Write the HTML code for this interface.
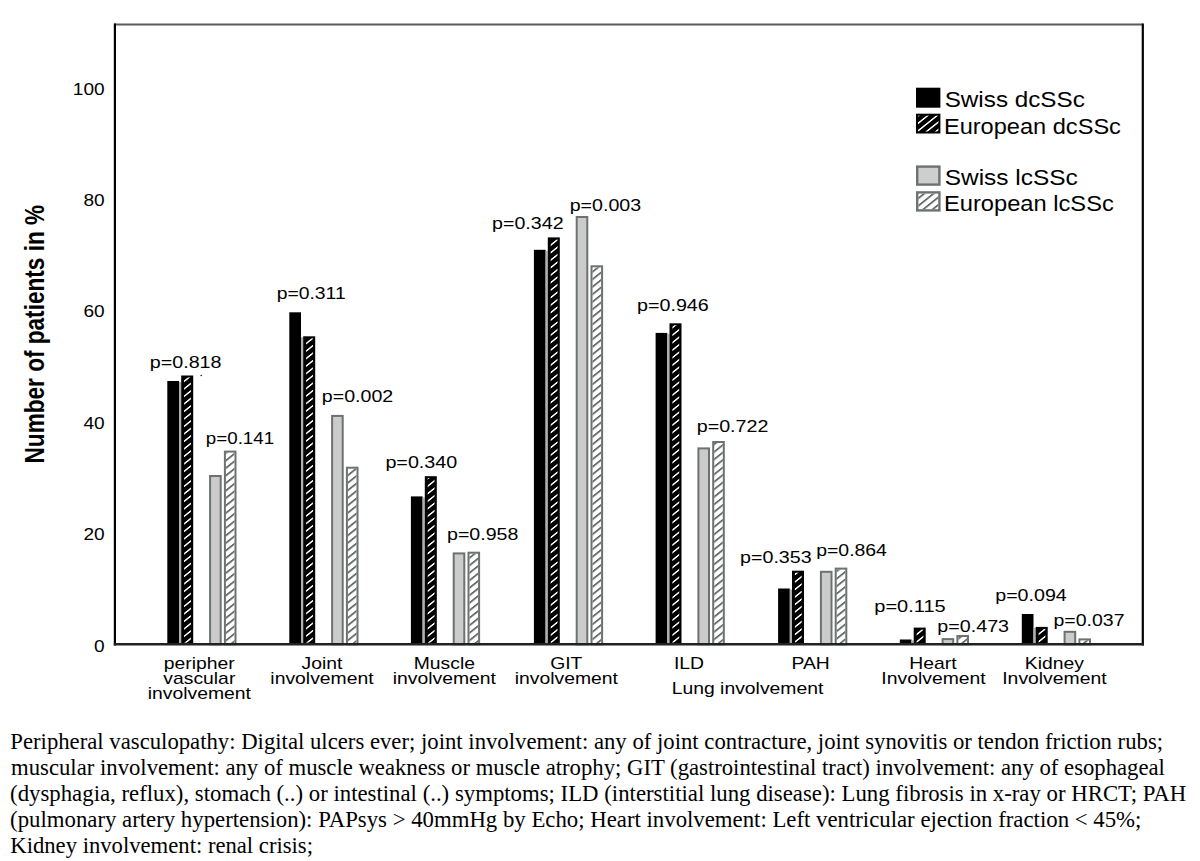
<!DOCTYPE html>
<html><head><meta charset="utf-8">
<style>
html,body{margin:0;padding:0;background:#fff;}
svg{display:block;}
text{font-family:"Liberation Sans",sans-serif;}
</style></head>
<body>
<svg width="1200" height="861" viewBox="0 0 1200 861">
<defs>
<pattern id="hw" patternUnits="userSpaceOnUse" width="20" height="7.5" patternTransform="translate(0,2.9) skewY(-38.7)">
<rect x="0" y="0" width="20" height="1.9" fill="#fff"/>
</pattern>
<pattern id="hg" patternUnits="userSpaceOnUse" width="20" height="7.5" patternTransform="translate(0,2.9) skewY(-38.7)">
<rect x="0" y="0" width="20" height="2.3" fill="#646a67"/>
</pattern>
</defs>
<rect width="1200" height="861" fill="#fff"/>
<rect x="167.30" y="381.00" width="11.7" height="263.30" fill="#000"/>
<rect x="179.00" y="382.00" width="2.20" height="262.30" fill="#b0b0b0"/>
<rect x="181.20" y="375.50" width="12.0" height="268.80" fill="#000"/>
<rect x="184.10" y="377.50" width="6.80" height="265.20" fill="url(#hw)"/>
<rect x="210.10" y="476.00" width="10.60" height="168.30" fill="#cbcbcb" stroke="#6c726f" stroke-width="2"/>
<rect x="224.90" y="451.60" width="10.60" height="192.70" fill="#fff" stroke="#6c726f" stroke-width="2"/>
<rect x="225.90" y="452.60" width="8.60" height="191.70" fill="url(#hg)"/>
<rect x="289.30" y="312.30" width="11.7" height="332.00" fill="#000"/>
<rect x="301.00" y="337.30" width="2.20" height="307.00" fill="#b0b0b0"/>
<rect x="303.20" y="336.30" width="12.0" height="308.00" fill="#000"/>
<rect x="306.10" y="338.30" width="6.80" height="304.40" fill="url(#hw)"/>
<rect x="332.10" y="415.90" width="10.60" height="228.40" fill="#cbcbcb" stroke="#6c726f" stroke-width="2"/>
<rect x="346.90" y="467.70" width="10.60" height="176.60" fill="#fff" stroke="#6c726f" stroke-width="2"/>
<rect x="347.90" y="468.70" width="8.60" height="175.60" fill="url(#hg)"/>
<rect x="410.90" y="496.40" width="11.7" height="147.90" fill="#000"/>
<rect x="422.60" y="497.40" width="2.20" height="146.90" fill="#b0b0b0"/>
<rect x="424.80" y="476.20" width="12.0" height="168.10" fill="#000"/>
<rect x="427.70" y="478.20" width="6.80" height="164.50" fill="url(#hw)"/>
<rect x="453.70" y="553.40" width="10.60" height="90.90" fill="#cbcbcb" stroke="#6c726f" stroke-width="2"/>
<rect x="468.50" y="552.70" width="10.60" height="91.60" fill="#fff" stroke="#6c726f" stroke-width="2"/>
<rect x="469.50" y="553.70" width="8.60" height="90.60" fill="url(#hg)"/>
<rect x="533.90" y="249.80" width="11.7" height="394.50" fill="#000"/>
<rect x="545.60" y="250.80" width="2.20" height="393.50" fill="#b0b0b0"/>
<rect x="547.80" y="237.40" width="12.0" height="406.90" fill="#000"/>
<rect x="550.70" y="239.40" width="6.80" height="403.30" fill="url(#hw)"/>
<rect x="576.70" y="217.00" width="10.60" height="427.30" fill="#cbcbcb" stroke="#6c726f" stroke-width="2"/>
<rect x="591.50" y="266.30" width="10.60" height="378.00" fill="#fff" stroke="#6c726f" stroke-width="2"/>
<rect x="592.50" y="267.30" width="8.60" height="377.00" fill="url(#hg)"/>
<rect x="655.60" y="332.90" width="11.7" height="311.40" fill="#000"/>
<rect x="667.30" y="333.90" width="2.20" height="310.40" fill="#b0b0b0"/>
<rect x="669.50" y="323.30" width="12.0" height="321.00" fill="#000"/>
<rect x="672.40" y="325.30" width="6.80" height="317.40" fill="url(#hw)"/>
<rect x="698.40" y="448.40" width="10.60" height="195.90" fill="#cbcbcb" stroke="#6c726f" stroke-width="2"/>
<rect x="713.20" y="442.00" width="10.60" height="202.30" fill="#fff" stroke="#6c726f" stroke-width="2"/>
<rect x="714.20" y="443.00" width="8.60" height="201.30" fill="url(#hg)"/>
<rect x="778.10" y="588.50" width="11.7" height="55.80" fill="#000"/>
<rect x="789.80" y="589.50" width="2.20" height="54.80" fill="#b0b0b0"/>
<rect x="792.00" y="570.70" width="12.0" height="73.60" fill="#000"/>
<rect x="794.90" y="572.70" width="6.80" height="70.00" fill="url(#hw)"/>
<rect x="820.90" y="571.80" width="10.60" height="72.50" fill="#cbcbcb" stroke="#6c726f" stroke-width="2"/>
<rect x="835.70" y="568.60" width="10.60" height="75.70" fill="#fff" stroke="#6c726f" stroke-width="2"/>
<rect x="836.70" y="569.60" width="8.60" height="74.70" fill="url(#hg)"/>
<rect x="899.80" y="639.50" width="11.7" height="4.80" fill="#000"/>
<rect x="911.50" y="640.50" width="2.20" height="3.80" fill="#b0b0b0"/>
<rect x="913.70" y="627.60" width="12.0" height="16.70" fill="#000"/>
<rect x="916.60" y="629.60" width="6.80" height="13.10" fill="url(#hw)"/>
<rect x="942.60" y="639.10" width="10.60" height="5.20" fill="#cbcbcb" stroke="#6c726f" stroke-width="2"/>
<rect x="957.40" y="636.00" width="10.60" height="8.30" fill="#fff" stroke="#6c726f" stroke-width="2"/>
<rect x="958.40" y="637.00" width="8.60" height="7.30" fill="url(#hg)"/>
<rect x="1021.80" y="614.00" width="11.7" height="30.30" fill="#000"/>
<rect x="1033.50" y="627.90" width="2.20" height="16.40" fill="#b0b0b0"/>
<rect x="1035.70" y="626.90" width="12.0" height="17.40" fill="#000"/>
<rect x="1038.60" y="628.90" width="6.80" height="13.80" fill="url(#hw)"/>
<rect x="1064.60" y="631.80" width="10.60" height="12.50" fill="#cbcbcb" stroke="#6c726f" stroke-width="2"/>
<rect x="1079.40" y="639.40" width="10.60" height="4.90" fill="#fff" stroke="#6c726f" stroke-width="2"/>
<rect x="1080.40" y="640.40" width="8.60" height="3.90" fill="url(#hg)"/>

<line x1="114" y1="24.5" x2="1143" y2="24.5" stroke="#5a5a5a" stroke-width="2.2"/>
<line x1="114.9" y1="23.5" x2="114.9" y2="645.5" stroke="#000" stroke-width="2.2"/>
<line x1="1142.8" y1="23.5" x2="1142.8" y2="645.5" stroke="#000" stroke-width="2.2"/>
<line x1="113.8" y1="644.3" x2="1143.9" y2="644.3" stroke="#222" stroke-width="2.4"/>

<text transform="translate(104.60,651.90) scale(1.19,1)" font-size="16" font-weight="400" text-anchor="end" fill="#000">0</text>
<text transform="translate(104.60,540.42) scale(1.19,1)" font-size="16" font-weight="400" text-anchor="end" fill="#000">20</text>
<text transform="translate(104.60,428.94) scale(1.19,1)" font-size="16" font-weight="400" text-anchor="end" fill="#000">40</text>
<text transform="translate(104.60,317.46) scale(1.19,1)" font-size="16" font-weight="400" text-anchor="end" fill="#000">60</text>
<text transform="translate(104.60,205.98) scale(1.19,1)" font-size="16" font-weight="400" text-anchor="end" fill="#000">80</text>
<text transform="translate(104.60,94.50) scale(1.19,1)" font-size="16" font-weight="400" text-anchor="end" fill="#000">100</text>
<text transform="translate(43.6,334.2) scale(1.19,1) rotate(-90)" font-size="22.6" font-weight="700" text-anchor="middle">Number of patients in %</text>
<text transform="translate(149.70,368.00) scale(1.2334,1)" font-size="16" font-weight="400" text-anchor="start" fill="#000">p=0.818</text>
<text transform="translate(205.87,443.75) scale(1.1714,1)" font-size="16" font-weight="400" text-anchor="start" fill="#000">p=0.141</text>
<text transform="translate(276.63,298.90) scale(1.209,1)" font-size="16" font-weight="400" text-anchor="start" fill="#000">p=0.311</text>
<text transform="translate(321.81,401.50) scale(1.2263,1)" font-size="16" font-weight="400" text-anchor="start" fill="#000">p=0.002</text>
<text transform="translate(385.40,468.40) scale(1.2334,1)" font-size="16" font-weight="400" text-anchor="start" fill="#000">p=0.340</text>
<text transform="translate(447.01,539.90) scale(1.2263,1)" font-size="16" font-weight="400" text-anchor="start" fill="#000">p=0.958</text>
<text transform="translate(492.11,229.40) scale(1.2263,1)" font-size="16" font-weight="400" text-anchor="start" fill="#000">p=0.342</text>
<text transform="translate(569.71,210.80) scale(1.2263,1)" font-size="16" font-weight="400" text-anchor="start" fill="#000">p=0.003</text>
<text transform="translate(637.11,311.40) scale(1.2298,1)" font-size="16" font-weight="400" text-anchor="start" fill="#000">p=0.946</text>
<text transform="translate(696.71,431.70) scale(1.2298,1)" font-size="16" font-weight="400" text-anchor="start" fill="#000">p=0.722</text>
<text transform="translate(740.11,562.80) scale(1.228,1)" font-size="16" font-weight="400" text-anchor="start" fill="#000">p=0.353</text>
<text transform="translate(816.22,556.20) scale(1.2139,1)" font-size="16" font-weight="400" text-anchor="start" fill="#000">p=0.864</text>
<text transform="translate(874.29,611.80) scale(1.2506,1)" font-size="16" font-weight="400" text-anchor="start" fill="#000">p=0.115</text>
<text transform="translate(937.31,631.70) scale(1.2316,1)" font-size="16" font-weight="400" text-anchor="start" fill="#000">p=0.473</text>
<text transform="translate(995.21,601.30) scale(1.228,1)" font-size="16" font-weight="400" text-anchor="start" fill="#000">p=0.094</text>
<text transform="translate(1053.52,625.80) scale(1.2192,1)" font-size="16" font-weight="400" text-anchor="start" fill="#000">p=0.037</text>
<text transform="translate(199.30,668.50) scale(1.21,1)" font-size="16" font-weight="400" text-anchor="middle" fill="#000">peripher</text>
<text transform="translate(199.30,683.90) scale(1.21,1)" font-size="16" font-weight="400" text-anchor="middle" fill="#000">vascular</text>
<text transform="translate(199.30,699.30) scale(1.21,1)" font-size="16" font-weight="400" text-anchor="middle" fill="#000">involvement</text>
<text transform="translate(322.00,669.00) scale(1.21,1)" font-size="16" font-weight="400" text-anchor="middle" fill="#000">Joint</text>
<text transform="translate(322.00,684.20) scale(1.21,1)" font-size="16" font-weight="400" text-anchor="middle" fill="#000">involvement</text>
<text transform="translate(444.30,669.00) scale(1.21,1)" font-size="16" font-weight="400" text-anchor="middle" fill="#000">Muscle</text>
<text transform="translate(444.30,684.20) scale(1.21,1)" font-size="16" font-weight="400" text-anchor="middle" fill="#000">involvement</text>
<text transform="translate(566.30,669.00) scale(1.21,1)" font-size="16" font-weight="400" text-anchor="middle" fill="#000">GIT</text>
<text transform="translate(566.30,684.20) scale(1.21,1)" font-size="16" font-weight="400" text-anchor="middle" fill="#000">involvement</text>
<text transform="translate(689.00,669.20) scale(1.21,1)" font-size="16" font-weight="400" text-anchor="middle" fill="#000">ILD</text>
<text transform="translate(810.60,669.20) scale(1.21,1)" font-size="16" font-weight="400" text-anchor="middle" fill="#000">PAH</text>
<text transform="translate(747.50,693.70) scale(1.21,1)" font-size="16" font-weight="400" text-anchor="middle" fill="#000">Lung involvement</text>
<text transform="translate(933.00,669.20) scale(1.21,1)" font-size="16" font-weight="400" text-anchor="middle" fill="#000">Heart</text>
<text transform="translate(933.50,684.40) scale(1.21,1)" font-size="16" font-weight="400" text-anchor="middle" fill="#000">Involvement</text>
<text transform="translate(1054.40,669.20) scale(1.21,1)" font-size="16" font-weight="400" text-anchor="middle" fill="#000">Kidney</text>
<text transform="translate(1054.40,684.40) scale(1.21,1)" font-size="16" font-weight="400" text-anchor="middle" fill="#000">Involvement</text>

<rect x="916" y="87.7" width="24.4" height="20" fill="#000"/>
<rect x="916" y="113.7" width="24.4" height="19.8" fill="#000"/>
<rect x="918" y="115.7" width="20.4" height="15.8" fill="url(#hw)"/>
<rect x="917.2" y="166.6" width="22.2" height="18" fill="#cecece" stroke="#6c726f" stroke-width="2.4"/>
<rect x="917.2" y="192.4" width="22.2" height="18" fill="#fff" stroke="#6c726f" stroke-width="2.4"/>
<rect x="918.4" y="193.6" width="19.8" height="15.6" fill="url(#hg)"/>
<text transform="translate(944.70,107.40) scale(1.1024,1)" font-size="22" font-weight="400" text-anchor="start" fill="#000">Swiss dcSSc</text>
<text transform="translate(943.90,133.60) scale(1.0732,1)" font-size="22" font-weight="400" text-anchor="start" fill="#000">European dcSSc</text>
<text transform="translate(944.70,185.40) scale(1.1114,1)" font-size="22" font-weight="400" text-anchor="start" fill="#000">Swiss lcSSc</text>
<text transform="translate(943.90,211.20) scale(1.0773,1)" font-size="22" font-weight="400" text-anchor="start" fill="#000">European lcSSc</text>

<circle cx="201.2" cy="375.5" r="0.8" fill="#222"/>
<text transform="translate(10.3,749.0) scale(1.0028,1)" style="font-family:&quot;Liberation Serif&quot;,serif" font-size="22.66">Peripheral vasculopathy: Digital ulcers ever; joint involvement: any of joint contracture, joint synovitis or tendon friction rubs;</text>
<text transform="translate(11.1,774.6) scale(1.0025,1)" style="font-family:&quot;Liberation Serif&quot;,serif" font-size="22.66">muscular involvement: any of muscle weakness or muscle atrophy; GIT (gastrointestinal tract) involvement: any of esophageal</text>
<text transform="translate(10.1,800.7) scale(1.0058,1)" style="font-family:&quot;Liberation Serif&quot;,serif" font-size="22.66">(dysphagia, reflux), stomach (..) or intestinal (..) symptoms; ILD (interstitial lung disease): Lung fibrosis in x-ray or HRCT; PAH</text>
<text transform="translate(10.1,826.6) scale(1.0053,1)" style="font-family:&quot;Liberation Serif&quot;,serif" font-size="22.66">(pulmonary artery hypertension): PAPsys &gt; 40mmHg by Echo; Heart involvement: Left ventricular ejection fraction &lt; 45%;</text>
<text transform="translate(10.3,852.5) scale(1.0,1)" style="font-family:&quot;Liberation Serif&quot;,serif" font-size="22.66">Kidney involvement: renal crisis;</text>
</svg>
</body></html>
